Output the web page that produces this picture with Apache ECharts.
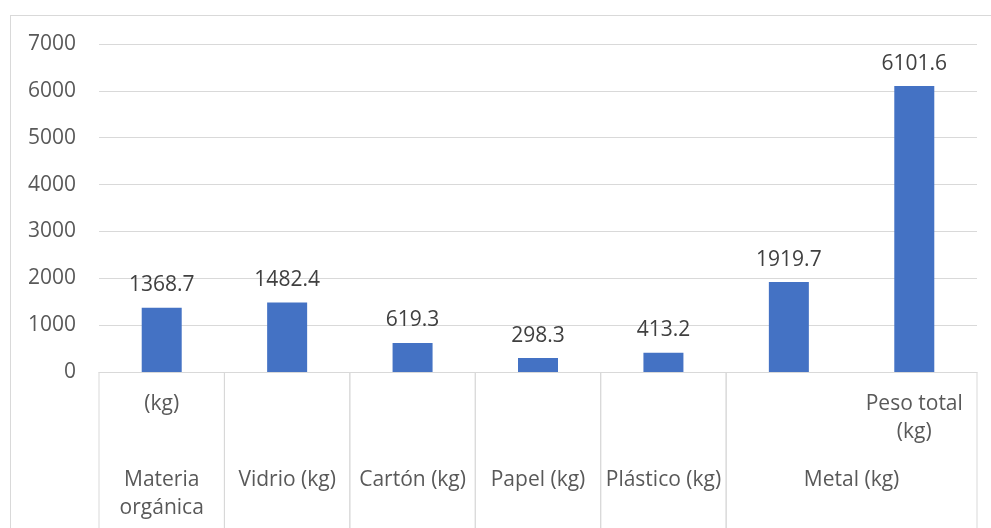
<!DOCTYPE html>
<html>
<head>
<meta charset="utf-8">
<script src="https://cdn.jsdelivr.net/npm/echarts@6/dist/echarts.min.js"></script>
<style>
  html, body { margin: 0; padding: 0; background: #fff; }
  #frame {
    position: absolute; left: 10px; top: 15px; right: 0; bottom: 0;
    border-left: 1px solid #d9d9d9; border-top: 1px solid #d9d9d9;
  }
  #chart { position: absolute; left: 0; top: 0; width: 991px; height: 528px; }
</style>
</head>
<body>
<div id="frame"></div>
<div id="chart"></div>
<script>
const categories = ["Materia orgánica (kg)", "Vidrio (kg)", "Cartón (kg)", "Papel (kg)", "Plástico (kg)", "Metal (kg) a", "Metal (kg) b"];
const level1Labels = ["(kg)", "", "", "", "", "", "Peso total\n(kg)"];
const values = [1368.7, 1482.4, 619.3, 298.3, 413.2, 1919.7, 6101.6];
// second row of the axis: [first index, last index]
const groupNames = ["Materia\norgánica", "Vidrio (kg)", "Cartón (kg)", "Papel (kg)", "Plástico (kg)", "Metal (kg)"];
const groupSpans = [[0, 0], [1, 1], [2, 2], [3, 3], [4, 4], [5, 6]];

const FONT = "'Open Sans', sans-serif";
const FS = 21;
const chart = echarts.init(document.getElementById("chart"));

chart.setOption({
  animation: false,
  textStyle: { fontFamily: FONT },
  grid: { left: 99, right: 14, top: 44, bottom: 156 },
  xAxis: {
    type: "category",
    data: categories,
    axisLine: { lineStyle: { color: "#d9d9d9", width: 1 } },
    axisTick: { show: false },
    axisLabel: {
      interval: 0,
      margin: 18,
      color: "#595959",
      fontSize: FS,
      lineHeight: 28,
      fontFamily: FONT,
      formatter: (v, i) => level1Labels[i]
    }
  },
  yAxis: {
    type: "value",
    min: 0,
    max: 7000,
    interval: 1000,
    axisLine: { show: false },
    axisTick: { show: false },
    splitLine: { lineStyle: { color: "#d9d9d9", width: 1 } },
    axisLabel: {
      color: "#595959", fontSize: FS, margin: 23, fontFamily: FONT,
      formatter: (v) => String(v)
    }
  },
  series: [
    {
      type: "bar",
      data: values,
      barWidth: 40,
      itemStyle: { color: "#4472C4" },
      label: {
        show: true,
        position: "top",
        distance: 12,
        color: "#404040",
        fontSize: FS,
        fontFamily: FONT
      }
    },
    {
      type: "custom",
      silent: true,
      clip: false,
      data: groupSpans,
      renderItem: (params, api) => {
        const from = api.value(0);
        const to = api.value(1);
        const band = api.size([1, 0])[0];
        const y0 = api.coord([from, 0])[1];
        const x0 = api.coord([from, 0])[0] - band / 2;
        const x1 = api.coord([to, 0])[0] + band / 2;
        const lineStyle = { stroke: "#d9d9d9", lineWidth: 1 };
        return {
          type: "group",
          children: [
            { type: "line", shape: { x1: x0, y1: y0, x2: x0, y2: 528 }, style: lineStyle },
            { type: "line", shape: { x1: x1, y1: y0, x2: x1, y2: 528 }, style: lineStyle },
            {
              type: "text",
              style: {
                text: groupNames[params.dataIndex],
                x: (x0 + x1) / 2,
                y: y0 + 94,
                align: "center",
                verticalAlign: "top",
                fill: "#595959",
                fontSize: FS,
                lineHeight: 28,
                fontFamily: FONT
              }
            }
          ]
        };
      }
    }
  ]
});
</script>
</body>
</html>
